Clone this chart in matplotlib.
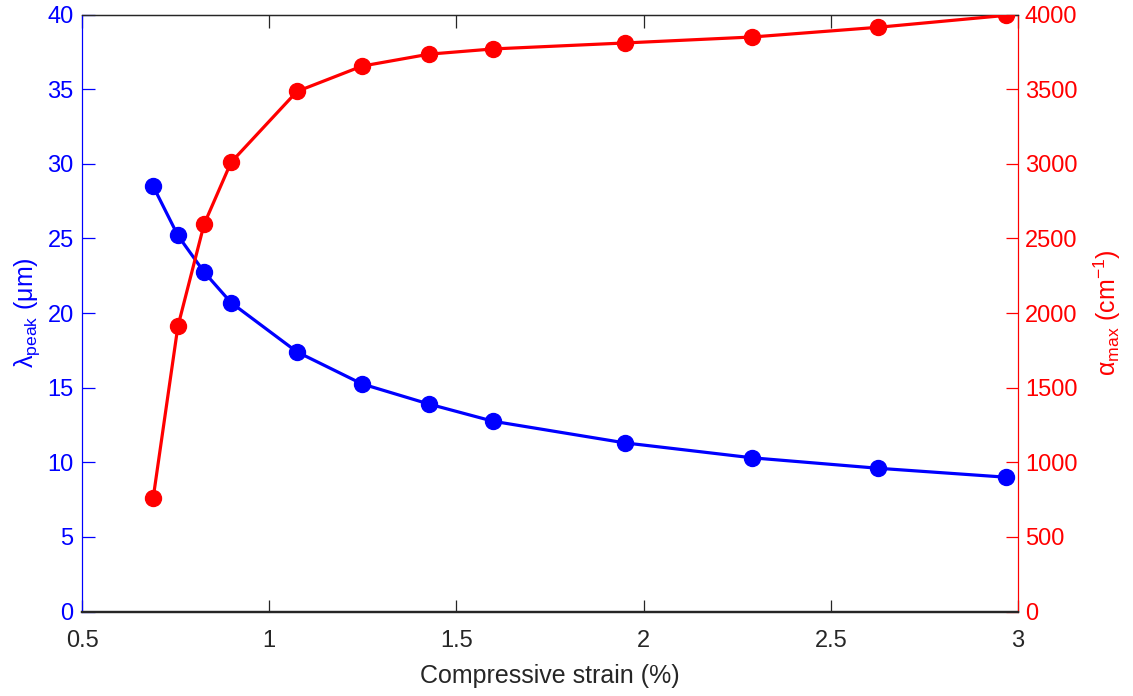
import matplotlib
matplotlib.use("Agg")
import matplotlib.pyplot as plt

plt.rcParams["font.family"] = ["Liberation Sans", "DejaVu Sans"]
plt.rcParams["mathtext.fontset"] = "custom"
plt.rcParams["mathtext.rm"] = "Liberation Sans"
plt.rcParams["mathtext.it"] = "Liberation Sans"

# data
strain = [0.69, 0.756, 0.826, 0.898, 1.074, 1.248, 1.427, 1.598, 1.95, 2.29, 2.626, 2.968]
lambda_peak = [28.5, 25.2, 22.75, 20.7, 17.4, 15.25, 13.9, 12.75, 11.3, 10.3, 9.6, 9.0]
alpha_max = [760, 1910, 2595, 3010, 3485, 3655, 3735, 3770, 3810, 3850, 3915, 3995]

x_ticks = [0.5, 1, 1.5, 2, 2.5, 3]
x_ticklabels = ["0.5", "1", "1.5", "2", "2.5", "3"]
left_ticks = list(range(0, 41, 5))
right_ticks = list(range(0, 4001, 500))

blue = "#0000ff"
red = "#ff0000"
dark = "#262626"

fig = plt.figure(figsize=(11.33, 6.96), dpi=100)
ax = fig.add_axes([0.0724, 0.1214, 0.8261, 0.8576])
ax2 = ax.twinx()

ax.plot(strain, lambda_peak, "-o", color=blue, lw=2.3, ms=11.5, zorder=3)
ax2.plot(strain, alpha_max, "-o", color=red, lw=2.3, ms=11.5, zorder=3)

ax.set_xlim(0.5, 3)
ax.set_ylim(0, 40)
ax2.set_ylim(0, 4000)

ax.set_xticks(x_ticks)
ax.set_xticklabels(x_ticklabels)
ax.set_yticks(left_ticks)
ax2.set_yticks(right_ticks)

ax.tick_params(axis="x", direction="in", length=9, width=0.9, colors=dark,
               labelsize=17, top=True, pad=13)
ax.tick_params(axis="y", direction="in", length=9, width=0.9, colors=blue,
               labelsize=17, pad=6)
ax2.tick_params(axis="y", direction="in", length=9, width=0.9, colors=red,
                labelsize=17, pad=5)

for a in (ax, ax2):
    a.spines["top"].set_color(dark)
    a.spines["bottom"].set_color(dark)
    a.spines["bottom"].set_linewidth(1.6)
    a.spines["top"].set_linewidth(0.9)
ax.spines["left"].set_color(blue)
ax2.spines["left"].set_color(blue)
ax.spines["right"].set_color(red)
ax2.spines["right"].set_color(red)

ax.set_xlabel("Compressive strain (%)", fontsize=18, color=dark, labelpad=9)
ax.set_ylabel(r"$\mathrm{λ}_{\mathrm{peak}}$ (μm)", fontsize=18, color=blue, labelpad=4)
ax2.set_ylabel(r"$\mathrm{α}_{\mathrm{max}}$ (cm$^{-1}$)", fontsize=18, color=red, labelpad=10)

fig.savefig("out.png", dpi=100)
